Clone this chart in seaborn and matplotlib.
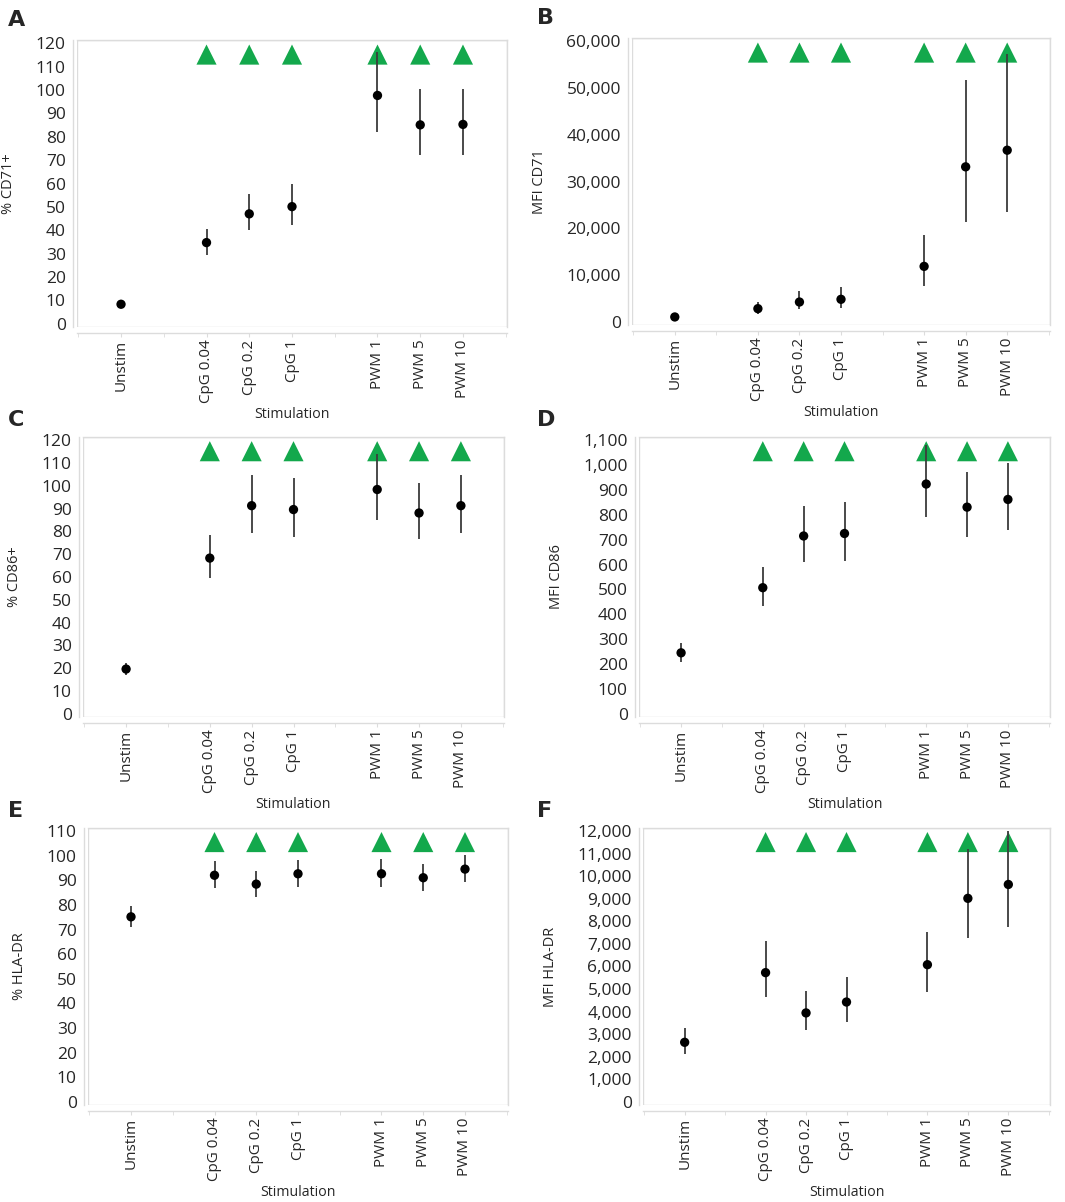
import matplotlib
matplotlib.use("Agg")
import matplotlib.pyplot as plt
import matplotlib.ticker as mticker
from matplotlib.patches import Rectangle
import pandas as pd
import seaborn as sns

sns.set_style("white")
plt.rcParams['font.family'] = ['Open Sans', 'DejaVu Sans']

# categories and their slot on the x axis (gaps at 2 and 6)
stims = ["Unstim", "CpG 0.04", "CpG 0.2", "CpG 1", "PWM 1", "PWM 5", "PWM 10"]
slots = [1, 3, 4, 5, 7, 8, 9]
significant = [False, True, True, True, True, True, True]

# A: % CD71+
a_mean = [8.3, 34.7, 47.0, 50.1, 97.7, 85.1, 85.3]
a_lo = [7.6, 29.3, 39.9, 42.4, 82.0, 72.1, 72.1]
a_hi = [9.0, 40.7, 55.4, 59.7, 116.4, 100.3, 100.3]

# B: MFI CD71
b_mean = [1000, 2780, 4200, 4780, 11830, 33140, 36700]
b_lo = [800, 1600, 2780, 3000, 7630, 21310, 23520]
b_hi = [1200, 4300, 6490, 7480, 18460, 51670, 57300]

# C: % CD86+
c_mean = [19.6, 68.3, 91.3, 89.6, 98.4, 88.1, 91.3]
c_lo = [17.0, 59.4, 79.2, 77.6, 84.8, 76.7, 79.5]
c_hi = [22.4, 78.4, 104.8, 103.4, 114.1, 101.2, 104.8]

# D: MFI CD86
d_mean = [245, 507, 715, 725, 924, 831, 862]
d_lo = [210, 433, 612, 616, 791, 710, 738]
d_hi = [286, 592, 836, 851, 1083, 971, 1007]

# E: % HLA-DR
e_mean = [75.2, 92.1, 88.5, 92.7, 92.7, 91.1, 94.6]
e_lo = [70.9, 86.9, 83.4, 87.2, 87.2, 85.8, 89.3]
e_hi = [79.8, 97.8, 93.9, 98.5, 98.7, 96.6, 100.3]

# F: MFI HLA-DR
f_mean = [2637, 5728, 3941, 4424, 6080, 9024, 9639]
f_lo = [2110, 4630, 3179, 3516, 4879, 7266, 7765]
f_hi = [3282, 7120, 4908, 5523, 7545, 11207, 12000]

panels = [
    ("A", "% CD71+", a_mean, a_lo, a_hi, 120, 10, [77, 40, 507, 327]),
    ("B", "MFI CD71", b_mean, b_lo, b_hi, 60000, 10000, [632, 38, 1050, 325]),
    ("C", "% CD86+", c_mean, c_lo, c_hi, 120, 10, [83, 437, 504, 717]),
    ("D", "MFI CD86", d_mean, d_lo, d_hi, 1100, 100, [639, 437, 1050, 717]),
    ("E", "% HLA-DR", e_mean, e_lo, e_hi, 110, 10, [88, 828, 508, 1105]),
    ("F", "MFI HLA-DR", f_mean, f_lo, f_hi, 12000, 1000, [643, 828, 1050, 1105]),
]

W, H = 1065, 1202
fig = plt.figure(figsize=(W / 100, H / 100), dpi=100)
frame_col = "#dcdcdc"

for letter, ylabel, mean, lo, hi, ymax, step, box in panels:
    x0, y0, x1, y1 = box
    ax = fig.add_axes([x0 / W, 1 - y1 / H, (x1 - x0) / W, (y1 - y0) / H])
    df = pd.DataFrame({"slot": slots, "mean": mean, "lo": lo, "hi": hi,
                       "sig": significant})

    ax.vlines(df["slot"], df["lo"], df["hi"], color="#3c3c3c", lw=1.3, zorder=3)
    sns.scatterplot(data=df, x="slot", y="mean", ax=ax, color="black",
                    s=45, edgecolor="none", zorder=4)
    sig = df[df["sig"]]
    sns.scatterplot(x=sig["slot"], y=[0.96 * ymax] * len(sig), ax=ax,
                    marker="^", color="#13a84c", s=210, edgecolor="none",
                    zorder=2)

    ax.set_xlim(-0.03, 10.03)
    ax.set_ylim(-0.012 * ymax, ymax * 1.012)
    ax.set_xticks(slots)
    ax.set_xticklabels(stims)
    ax.set_xticks([0, 2, 6, 10], minor=True)
    ax.set_yticks([step * i for i in range(int(round(ymax / step)) + 1)])
    ax.yaxis.set_major_formatter(mticker.FuncFormatter(lambda v, p: f"{v:,.0f}"))
    ax.yaxis.set_minor_locator(mticker.AutoMinorLocator(5))
    ax.tick_params(axis="y", labelsize=12.5, length=3, color=frame_col, pad=2)
    ax.tick_params(axis="y", which="minor", length=2, color=frame_col)
    ax.tick_params(axis="x", which="both", length=3, color=frame_col,
                   bottom=True, pad=2, labelsize=11, labelrotation=90)
    ax.set_xlabel("Stimulation", fontsize=10.2, labelpad=3)
    ax.set_ylabel(ylabel, fontsize=10.5, labelpad=14)

    for name, sp in ax.spines.items():
        sp.set_color(frame_col)
        sp.set_linewidth(1.0)
    ax.spines["bottom"].set_position(("outward", 4))
    ax.spines["left"].set_position(("outward", 3))
    ax.add_patch(Rectangle((0, 0), 1, 1, transform=ax.transAxes, fill=False,
                           ec=frame_col, lw=1.0, zorder=1))

    lx = 8 if x0 < 500 else 537
    ly = y0 - 30 if letter in "AB" else y0 - 27
    fig.text(lx / W, 1 - ly / H, letter, fontsize=16, fontweight="bold",
             va="top", ha="left", family=["DejaVu Sans"])

fig.savefig("out.png", dpi=100)
